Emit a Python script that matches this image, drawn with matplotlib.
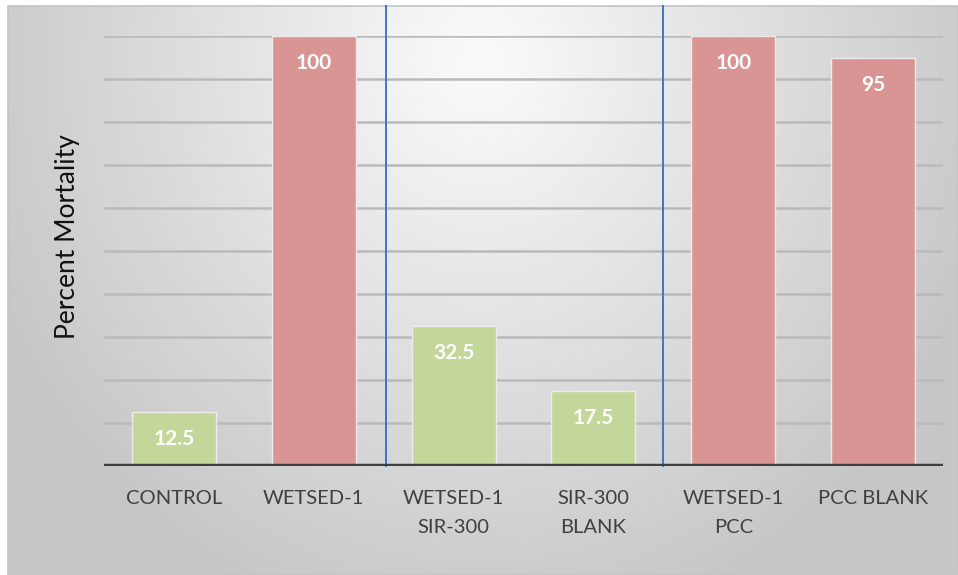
import numpy as np
import matplotlib
matplotlib.use("Agg")
import matplotlib.pyplot as plt
from matplotlib.patches import Rectangle

plt.rcParams['font.family'] = ['Lato', 'DejaVu Sans']

# Data
categories = ["CONTROL", "WETSED-1", "WETSED-1\nSIR-300", "SIR-300\nBLANK", "WETSED-1\nPCC", "PCC BLANK"]
mortality = [12.5, 100, 32.5, 17.5, 100, 95]
bar_colors = ["#c4d79b", "#d99594", "#c4d79b", "#c4d79b", "#d99594", "#d99594"]
group_dividers = [1.52, 3.5]
y_label = "Percent Mortality"

W, H = 958, 575
fig = plt.figure(figsize=(W / 100, H / 100), dpi=100)

# Panel background: soft radial gradient, white outside the panel
bg = fig.add_axes([0, 0, 1, 1], zorder=0)
yy, xx = np.mgrid[0:H, 0:W]
r = np.sqrt(((xx - 480) / 540.0) ** 2 + ((yy - 60) / 590.0) ** 2)
shade = 251 - 53 * np.clip(r, 0, 1.0)
shade[:6, :] = 255
shade[:, :8] = 255
img = np.dstack([shade, shade, shade]) / 255.0
bg.imshow(img, extent=[0, W, H, 0], aspect='auto', interpolation='bilinear')
bg.add_patch(Rectangle((8, 6), W - 8, H - 6, fill=False, edgecolor='#c4c4c4', lw=1.2))
bg.set_xlim(0, W)
bg.set_ylim(H, 0)
bg.axis('off')

# Plot area
left, right = 104 / W, 943 / W
bottom, top = 1 - 466 / H, 1 - 36 / H
ax = fig.add_axes([left, bottom, right - left, top - bottom], zorder=1)
ax.patch.set_alpha(0)

x = np.arange(len(categories))
ax.set_xlim(-0.5, len(categories) - 0.5)
ax.set_ylim(0, 100)

for g in np.arange(10, 101, 10):
    ax.axhline(g, color='#bababa', lw=1.8, zorder=1)

bars = ax.bar(x, mortality, width=0.6, color=bar_colors, edgecolor='#f0eaea', lw=1.0, zorder=3)

for xi, v in zip(x, mortality):
    ax.annotate(f"{v:g}", xy=(xi, v), xytext=(0, -19.5), textcoords='offset points',
                ha='center', va='center', color='white', fontsize=15, fontweight='bold', zorder=5)

ax.axhline(0, color='#3f3f3f', lw=3.2, zorder=4)

for d in group_dividers:
    ax.plot([d, d], [0, 107], color='#4472c4', lw=1.4, clip_on=False, zorder=2)

ax.set_xticks(x)
ax.set_xticklabels(categories, fontsize=14.5, color='#404040', linespacing=1.9)
ax.tick_params(axis='x', length=0, pad=17)
ax.set_yticks([])
for s in ax.spines.values():
    s.set_visible(False)

fig.text(67 / W, 1 - 237 / H, y_label, rotation=90, ha='center', va='center',
         fontsize=19, color='#111111')

fig.savefig("out.png", dpi=100)
